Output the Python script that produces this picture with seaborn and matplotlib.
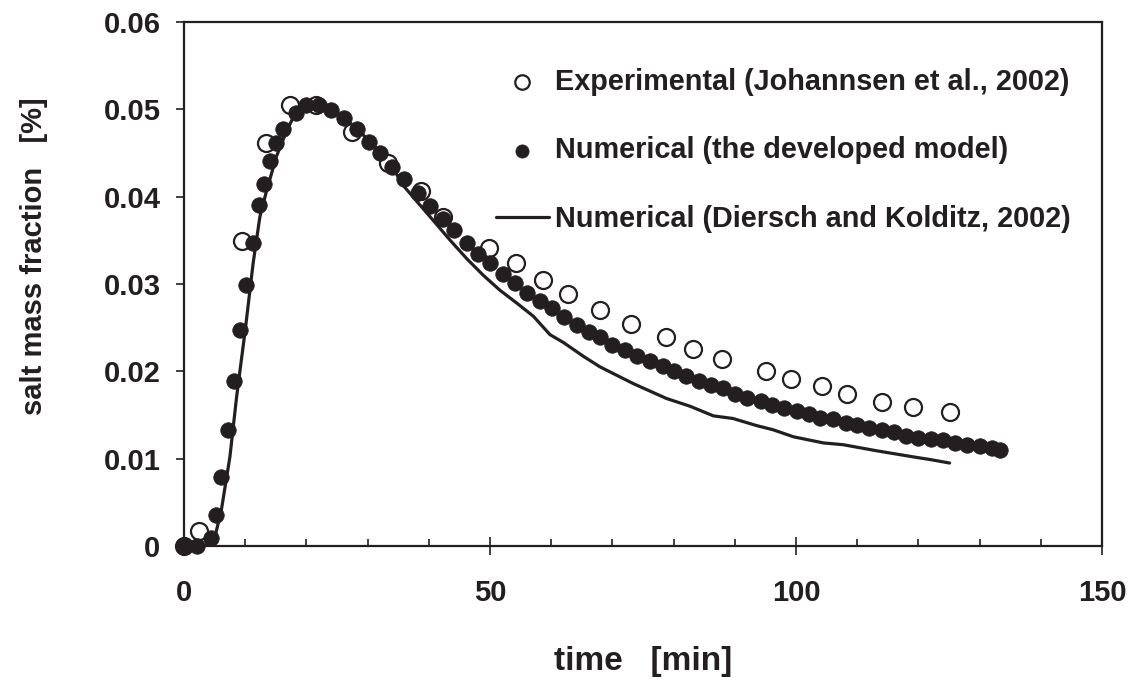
import matplotlib
matplotlib.use("Agg")
import matplotlib.pyplot as plt
from matplotlib.ticker import MultipleLocator, FixedLocator
import seaborn as sns
import pandas as pd

# ---- data ----
exp_t = [0, 2.5, 9.4, 13.4, 17.3, 21.5, 27.4, 33.4, 38.7, 42.4, 49.9, 54.3, 58.6,
         62.7, 68.0, 73.0, 78.7, 83.2, 87.9, 95.1, 99.2, 104.3, 108.4, 114.1, 119.1, 125.1]
exp_v = [0, 0.0017, 0.0349, 0.0461, 0.0505, 0.0505, 0.0474, 0.0439, 0.0406, 0.0377,
         0.0341, 0.0324, 0.0305, 0.0289, 0.0270, 0.0254, 0.0239, 0.0226, 0.0214, 0.0200,
         0.0191, 0.0183, 0.0174, 0.0165, 0.0159, 0.0153]

num_t = [0, 2.2, 4.4, 5.2, 6.0, 7.2, 8.1, 9.2, 10.2, 11.2, 12.2, 13.1, 14.0, 15.0, 16.2,
         18.3, 20.0, 22.0, 24.1, 26.1, 28.2, 30.2, 32.1, 34.0, 36.0, 38.2, 40.2, 42.3,
         44.1, 46.2, 48.1, 50.0, 52.1, 54.1, 56.1, 58.1, 60.1, 62.1, 64.2, 66.2, 68.0,
         70.0, 72.1, 74.1, 76.1, 78.2, 80.1, 82.0, 84.2, 86.1, 88.0, 90.0, 92.0, 94.2,
         96.0, 98.1, 100.1, 102.2, 104.0, 106.0, 108.1, 110.0, 112.0, 114.0, 116.0,
         118.0, 120.0, 122.0, 124.0, 126.0, 128.0, 130.0, 132.0, 133.4]
num_v = [0, 0, 0.00095, 0.0035, 0.0079, 0.0133, 0.0189, 0.0247, 0.0299, 0.0347, 0.0390,
         0.0415, 0.0441, 0.0461, 0.0478, 0.0496, 0.0505, 0.0505, 0.0499, 0.0490, 0.0477,
         0.0463, 0.0450, 0.0434, 0.0420, 0.0404, 0.0389, 0.0374, 0.0362, 0.0347, 0.0334,
         0.0324, 0.0311, 0.0301, 0.0290, 0.0280, 0.0272, 0.0262, 0.0253, 0.0245, 0.0239,
         0.0230, 0.0224, 0.0218, 0.0212, 0.0206, 0.0200, 0.0195, 0.0189, 0.0184, 0.0181,
         0.0174, 0.0170, 0.0166, 0.0161, 0.0158, 0.0155, 0.0151, 0.0147, 0.0145, 0.0141,
         0.0139, 0.0135, 0.0133, 0.0131, 0.0126, 0.0124, 0.0122, 0.0121, 0.0118, 0.0116,
         0.0114, 0.0112, 0.0110]

dk_t = [0, 3.0, 4.8, 6.1, 7.5, 8.6, 10.0, 11.3, 12.4, 13.5, 15.1, 16.8, 18.1, 19.5, 21.7,
        24, 27, 30, 33.7, 35.8, 38.0, 40.7, 43.5, 46.2, 48.9, 51.6, 54.4, 57.1, 59.8,
        62.0, 65.3, 68.0, 73.4, 78.8, 82.7, 86.5, 89.7, 93.5, 96.3, 99.6, 104.5, 107.7,
        113.2, 119.2, 121.9, 125.1]
dk_v = [0, 0, 0.0003, 0.0041, 0.0102, 0.0171, 0.0247, 0.0324, 0.0377, 0.0407, 0.0446,
        0.0476, 0.0494, 0.0503, 0.0505, 0.0500, 0.0485, 0.0466, 0.0438, 0.0413, 0.0395,
        0.0373, 0.0350, 0.0329, 0.0310, 0.0293, 0.0278, 0.0263, 0.0242, 0.0233, 0.0217,
        0.0205, 0.0186, 0.0169, 0.0160, 0.0149, 0.0146, 0.0138, 0.0133, 0.0125, 0.0118,
        0.0116, 0.0109, 0.0102, 0.0099, 0.0095]

lab_exp = "Experimental (Johannsen et al., 2002)"
lab_num = "Numerical (the developed model)"
lab_dk = "Numerical (Diersch and Kolditz, 2002)"

x_ticks = [0, 50, 100, 150]
y_ticks = [0, 0.01, 0.02, 0.03, 0.04, 0.05, 0.06]
y_tick_labels = ["0", "0.01", "0.02", "0.03", "0.04", "0.05", "0.06"]

# ---- style ----
sns.set_style("ticks")
INK = "#231f20"
plt.rcParams["font.family"] = ["Liberation Sans", "DejaVu Sans"]
plt.rcParams["font.weight"] = "bold"

fig = plt.figure(figsize=(11.36, 6.81), dpi=100)
ax = fig.add_axes([184 / 1136, 1 - 546 / 681, (1102 - 184) / 1136, (546 - 22) / 681])

df_dk = pd.DataFrame({"t": dk_t, "v": dk_v})
df_exp = pd.DataFrame({"t": exp_t, "v": exp_v})
df_num = pd.DataFrame({"t": num_t, "v": num_v})

sns.lineplot(data=df_dk, x="t", y="v", ax=ax, color=INK, linewidth=2.3,
             sort=False, estimator=None, label=lab_dk, zorder=2)
sns.scatterplot(data=df_exp, x="t", y="v", ax=ax, s=150, facecolor="white",
                edgecolor=INK, linewidth=1.6, label=lab_exp, zorder=3, clip_on=False)
sns.scatterplot(data=df_num, x="t", y="v", ax=ax, s=125, color=INK,
                edgecolor=INK, linewidth=0.5, label=lab_num, zorder=4, clip_on=False)

ax.set_xlim(0, 150)
ax.set_ylim(0, 0.06)
ax.xaxis.set_major_locator(FixedLocator(x_ticks))
ax.xaxis.set_minor_locator(MultipleLocator(10))
ax.set_yticks(y_ticks)
ax.set_yticklabels(y_tick_labels)

for s in ax.spines.values():
    s.set_color(INK)
    s.set_linewidth(1.6)

ax.tick_params(axis="x", which="major", direction="inout", length=13, width=1.2,
               color=INK, labelsize=21, labelcolor=INK, pad=17)
ax.tick_params(axis="x", which="minor", direction="in", length=5, width=1.2, color=INK)
ax.tick_params(axis="y", which="major", direction="out", length=6, width=1.2,
               color=INK, labelsize=21, labelcolor=INK, pad=11)
for lbl in ax.get_xticklabels() + ax.get_yticklabels():
    lbl.set_fontweight("bold")

ax.set_xlabel("time   [min]", fontsize=24, fontweight="bold", color=INK)
ax.xaxis.set_label_coords(0.5, -0.19)
ax.set_ylabel("salt mass fraction   [%]", fontsize=21, fontweight="bold", color=INK)
ax.yaxis.set_label_coords(-0.148, 0.553)

h, l = ax.get_legend_handles_labels()
order = [l.index(lab_exp), l.index(lab_num), l.index(lab_dk)]
leg = ax.legend([h[i] for i in order], [l[i] for i in order], loc="upper right",
                bbox_to_anchor=(0.994, 0.962), frameon=False,
                prop={"size": 20.8, "weight": "bold"}, labelspacing=1.4,
                handlelength=1.85, handletextpad=0.2, markerscale=0.85)
for t in leg.get_texts():
    t.set_color(INK)

fig.savefig("out.png", dpi=100)
